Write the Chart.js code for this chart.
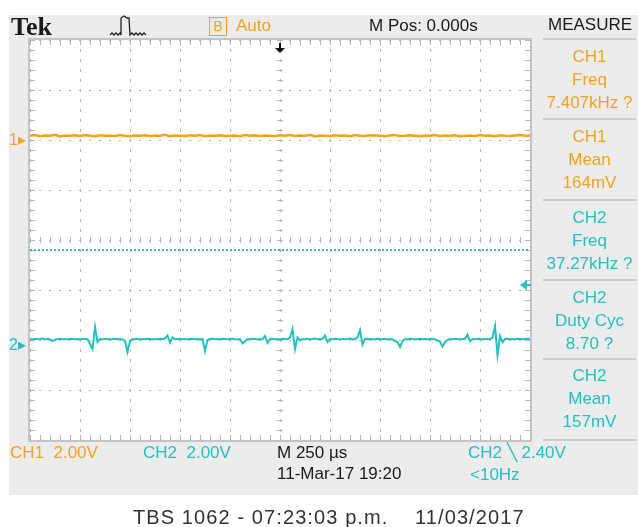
<!DOCTYPE html>
<html>
<head>
<meta charset="utf-8">
<script src="https://cdn.jsdelivr.net/npm/chart.js@4/dist/chart.umd.min.js"></script>
<style>
  body { margin: 0; width: 638px; height: 527px; background: #fff; position: relative; overflow: hidden; font-family: "Liberation Sans", Arial, sans-serif; }
  #panel { position: absolute; left: 9px; top: 15px; width: 629px; height: 480px; background: #ececec; }
  #scope { position: absolute; left: 0; top: 0; }
  .t { position: absolute; line-height: 20px; font-size: 17px; white-space: pre; }
  .or { color: #f7a11c; }
  .cy { color: #25c0c0; }
  .bk { color: #1a1a1a; }
  .meas { position: absolute; left: 543px; width: 93px; text-align: center; font-size: 17px; line-height: 23px; }
  .sep { position: absolute; left: 543px; width: 93px; height: 2px; background: #cdcdcd; }
</style>
</head>
<body>
<div id="panel"></div>
<canvas id="scope" width="638" height="527"></canvas>

<!-- encabezado -->
<div class="t bk" style="left:11px;top:14px;font-family:'Liberation Serif',serif;font-weight:bold;font-size:26px;line-height:26px;">Tek</div>
<svg style="position:absolute;left:108px;top:14px" width="40" height="26">
  <polyline fill="none" stroke="#222" stroke-width="1.3"
    points="2,21 4,19 6,21 8,19 10,21 12,19 13,21 13,4 16,2 19,4 21,4 22,21 24,19 26,21 28,19 30,21 32,19 34,21 36,19 38,21"/>
</svg>
<div style="position:absolute;left:209px;top:17px;width:16px;height:17px;border:1.5px solid #f7a11c;color:#f7a11c;font-size:14px;line-height:17px;text-align:center;">B</div>
<div class="t or" style="left:236px;top:16px;">Auto</div>
<div class="t bk" style="left:369px;top:16px;">M Pos: 0.000s</div>
<div class="t bk" style="left:548px;top:15px;">MEASURE</div>

<!-- panel de medidas -->
<div class="sep" style="top:38px"></div>
<div class="meas or" style="top:45px">CH1<br>Freq<br>7.407kHz ?</div>
<div class="sep" style="top:118px"></div>
<div class="meas or" style="top:125px">CH1<br>Mean<br>164mV</div>
<div class="sep" style="top:199px"></div>
<div class="meas cy" style="top:206px">CH2<br>Freq<br>37.27kHz ?</div>
<div class="sep" style="top:279px"></div>
<div class="meas cy" style="top:286px">CH2<br>Duty Cyc<br>8.70 ?</div>
<div class="sep" style="top:358px"></div>
<div class="meas cy" style="top:364px">CH2<br>Mean<br>157mV</div>
<div class="sep" style="top:439px"></div>

<!-- marcadores de tierra -->
<div class="t or" style="left:9px;top:130px;font-size:16px;">1▸</div>
<div class="t cy" style="left:9px;top:335px;font-size:16px;">2▸</div>

<!-- lecturas inferiores -->
<div class="t or" style="left:10px;top:443px;">CH1  2.00V</div>
<div class="t cy" style="left:143px;top:443px;">CH2  2.00V</div>
<div class="t bk" style="left:277px;top:443px;">M 250 µs</div>
<div class="t bk" style="left:277px;top:464px;">11-Mar-17 19:20</div>
<div class="t cy" style="left:468px;top:443px;">CH2 ╲ 2.40V</div>
<div class="t cy" style="left:470px;top:465px;">&lt;10Hz</div>

<div class="t" style="left:133px;top:505px;font-size:20px;letter-spacing:1.1px;line-height:24px;color:#333;">TBS 1062 - 07:23:03 p.m.    11/03/2017</div>

<script>
// escala del osciloscopio
const timePerDiv = 250;          // us/div
const ch1Step = 25;              // us entre muestras CH1
const ch2Step = 12.5;            // us entre muestras CH2
const voltsPerDivCh1 = 2000;     // mV/div
const voltsPerDivCh2 = 2000;     // mV/div
const ch1Offset = 2.0;           // divisiones
const ch2Offset = -2.1;          // divisiones
const trigLevel = 2400;          // mV en CH2
const refLineDiv = -0.2;         // linea punteada cian

const ch1 = [
  170, 200, 150, 180, 170, 210, 140, 180, 170, 190,
  160, 200, 170, 150, 190, 170, 180, 160, 200, 170,
  150, 180, 170, 190, 160, 180, 170, 210, 150, 180,
  170, 160, 190, 170, 200, 150, 180, 170, 190, 160,
  170, 180, 150, 200, 170, 190, 160, 180, 170, 150,
  190, 170, 200, 160, 180, 170, 210, 140, 180, 170,
  160, 190, 170, 180, 150, 200, 170, 160, 190, 180,
  170, 150, 180, 200, 160, 170, 190, 170, 150, 180,
  170, 200, 160, 180, 170, 190, 150, 170, 180, 160,
  200, 170, 180, 150, 190, 170, 160, 180, 200, 170,
  180
];
const ch2 = [
  240, 220, 250, 230, 240, 260, 220, 240, 230, 160, 210, 240, 250, 230, 240, 220, 250, 240, 230, 240,
  220, 250, 240, 230, 40, -160, 720, 120, 240, 230, 250, 240, 220, 240, 250, 230, 240, 220, 160, -280,
  150, 240, 230, 250, 220, 240, 230, 250, 240, 220, 240, 230, 250, 240, 260, 380, 100, 300, 230, 240,
  250, 230, 240, 220, 250, 240, 230, 240, 220, 250, -240, 200, 240, 250, 230, 240, 220, 250, 240, 230,
  240, 250, 230, 220, 240, 60, 150, 240, 230, 250, 240, 220, 240, 230, 360, 80, 240, 250, 230, 240,
  220, 250, 240, 230, 300, 640, -160, 300, 180, 240, 230, 250, 220, 240, 260, 230, 240, 250, 380, 120,
  240, 230, 250, 240, 220, 250, 230, 240, 260, 220, 240, 300, 600, 20, 240, 250, 230, 240, 220, 250,
  240, 230, 250, 220, 240, 230, 160, 120, -80, 160, 240, 230, 250, 240, 220, 240, 250, 230, 240, 220,
  250, 240, 230, 180, 120, -60, 120, 200, 240, 230, 250, 240, 220, 240, 250, 420, 160, 240, 230, 250,
  240, 220, 250, 230, 240, 300, 760, -400, 360, 120, 240, 250, 230, 240, 220, 250, 240, 230, 240, 250,
  240
];

const ORANGE = "#f7a11c";
const CYAN = "#25c0c0";
const tMin = -5 * timePerDiv, tMax = 5 * timePerDiv;

const ch1Points = ch1.map((v, i) => ({ x: tMin + i * ch1Step, y: ch1Offset + v / voltsPerDivCh1 }));
const ch2Points = ch2.map((v, i) => ({ x: tMin + i * ch2Step, y: ch2Offset + v / voltsPerDivCh2 }));
const refPoints = [{ x: tMin, y: refLineDiv }, { x: tMax, y: refLineDiv }];

// fondo blanco, marco, marcas menores y flechas de disparo
const scopeDecor = {
  id: "scopeDecor",
  beforeDraw(chart) {
    const a = chart.chartArea, ctx = chart.ctx;
    ctx.save();
    ctx.fillStyle = "#fff";
    ctx.fillRect(a.left, a.top, a.right - a.left, a.bottom - a.top);
    ctx.restore();
  },
  beforeDatasetsDraw(chart) {
    const a = chart.chartArea, ctx = chart.ctx;
    const xs = chart.scales.x, ys = chart.scales.y;
    ctx.save();
    ctx.strokeStyle = "#b4b4b4";
    ctx.lineWidth = 1;
    ctx.beginPath();
    for (let t = tMin; t <= tMax; t += timePerDiv / 5) {
      const px = Math.round(xs.getPixelForValue(t)) + 0.5;
      ctx.moveTo(px, a.top); ctx.lineTo(px, a.top + 5);
      ctx.moveTo(px, a.bottom); ctx.lineTo(px, a.bottom - 5);
      const cy = ys.getPixelForValue(0);
      ctx.moveTo(px, cy - 3); ctx.lineTo(px, cy + 3);
    }
    for (let d = -4; d <= 4.001; d += 0.2) {
      const py = Math.round(ys.getPixelForValue(d)) + 0.5;
      ctx.moveTo(a.left, py); ctx.lineTo(a.left + 5, py);
      ctx.moveTo(a.right, py); ctx.lineTo(a.right - 5, py);
      const cx = xs.getPixelForValue(0);
      ctx.moveTo(cx - 3, py); ctx.lineTo(cx + 3, py);
    }
    ctx.stroke();
    ctx.strokeStyle = "#c4c4c4";
    ctx.lineWidth = 2;
    ctx.strokeRect(a.left - 1, a.top - 1, a.right - a.left + 2, a.bottom - a.top + 2);
    ctx.restore();
  },
  afterDatasetsDraw(chart) {
    const ctx = chart.ctx, a = chart.chartArea;
    const xs = chart.scales.x, ys = chart.scales.y;
    ctx.save();
    // posicion de disparo
    const tx = xs.getPixelForValue(0);
    ctx.fillStyle = "#111";
    ctx.fillRect(tx - 1, a.top + 3, 2, 6);
    ctx.beginPath();
    ctx.moveTo(tx - 5, a.top + 8); ctx.lineTo(tx + 5, a.top + 8); ctx.lineTo(tx, a.top + 13);
    ctx.closePath(); ctx.fill();
    // nivel de disparo
    const ty = ys.getPixelForValue(ch2Offset + trigLevel / voltsPerDivCh2);
    ctx.fillStyle = CYAN;
    ctx.beginPath();
    ctx.moveTo(a.right - 10, ty); ctx.lineTo(a.right - 3, ty - 5); ctx.lineTo(a.right - 3, ty + 5);
    ctx.closePath(); ctx.fill();
    ctx.fillRect(a.right - 4, ty - 1, 5, 2);
    ctx.restore();
  }
};

new Chart(document.getElementById("scope"), {
  type: "line",
  data: {
    datasets: [
      { label: "ref", data: refPoints, borderColor: CYAN, borderWidth: 2, borderDash: [2, 2], pointRadius: 0 },
      { label: "CH1", data: ch1Points, borderColor: ORANGE, borderWidth: 2.5, pointRadius: 0, tension: 0 },
      { label: "CH2", data: ch2Points, borderColor: CYAN, borderWidth: 2, pointRadius: 0, tension: 0 }
    ]
  },
  options: {
    responsive: false,
    devicePixelRatio: 1,
    animation: false,
    layout: { padding: { left: 30, top: 40, right: 108, bottom: 87 } },
    plugins: { legend: { display: false }, tooltip: { enabled: false } },
    scales: {
      x: {
        type: "linear", min: tMin, max: tMax,
        ticks: { display: false, stepSize: timePerDiv },
        grid: { color: "#b4b4b4", lineWidth: 1, drawTicks: false },
        border: { display: false, dash: [3, 7], dashOffset: 1 }
      },
      y: {
        type: "linear", min: -4, max: 4,
        ticks: { display: false, stepSize: 1 },
        grid: { color: "#b4b4b4", lineWidth: 1, drawTicks: false },
        border: { display: false, dash: [2, 8], dashOffset: 1 }
      }
    }
  },
  plugins: [scopeDecor]
});
</script>
</body>
</html>
